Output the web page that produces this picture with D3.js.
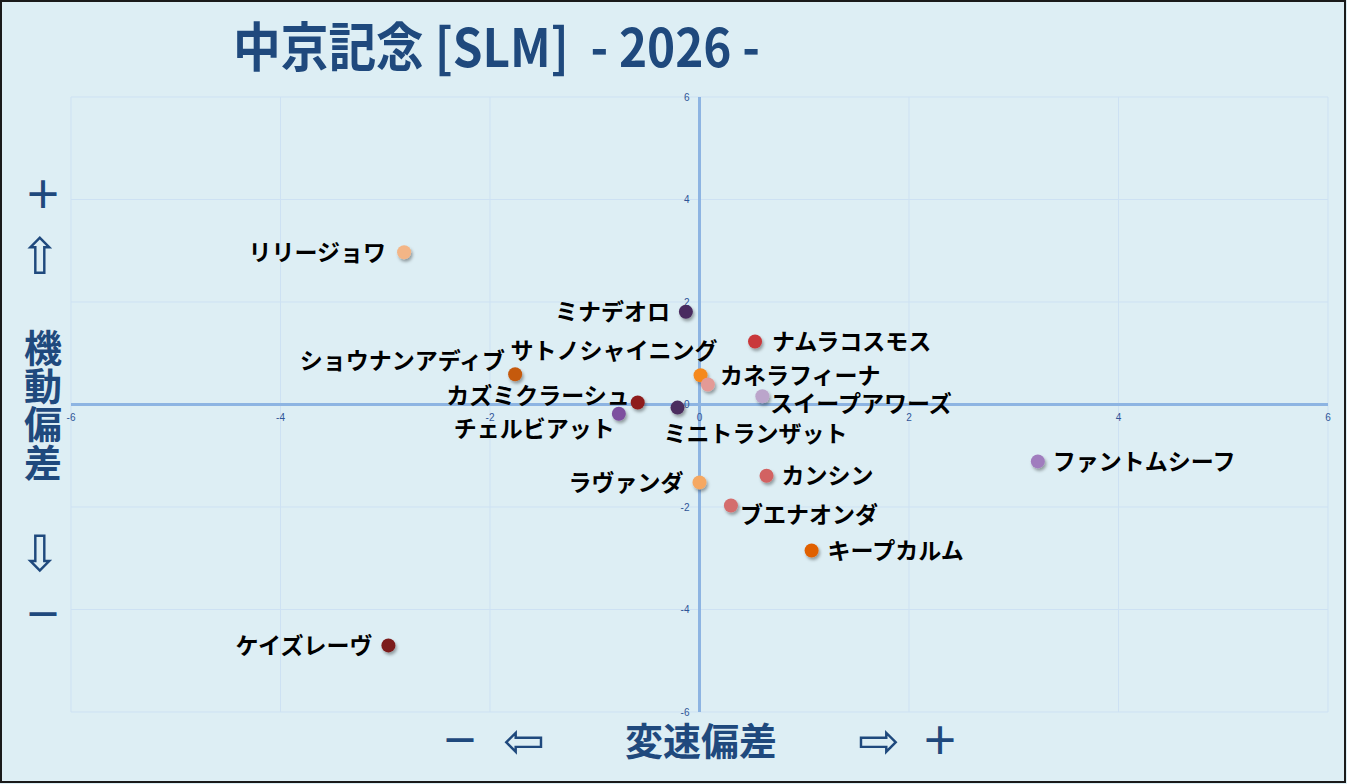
<!DOCTYPE html>
<html><head><meta charset="utf-8">
<script src="https://cdn.jsdelivr.net/npm/d3@7"></script>
<style>
html,body{margin:0;padding:0;background:#ddeef4;}
svg{display:block;}
</style></head>
<body>
<script>
// ---- data ----
const horses = ["リリージョワ","ミナデオロ","ナムラコスモス","ショウナンアディブ","サトノシャイニング","カネラフィーナ","カズミクラーシュ","ミニトランザット","チェルビアット","スイープアワーズ","ファントムシーフ","カンシン","ラヴァンダ","ブエナオンダ","キープカルム","ケイズレーヴ"];
const speedDev = [-2.82,-0.13,0.53,-1.76,0.01,0.08,-0.59,-0.21,-0.77,0.60,3.23,0.64,0.00,0.30,1.07,-2.97];
const mobilityDev = [2.97,1.81,1.23,0.59,0.57,0.39,0.04,-0.06,-0.18,0.16,-1.11,-1.39,-1.52,-1.97,-2.85,-4.70];
const pointColors = ["#f3b586","#4a2b5e","#c9383a","#c55a11","#f5891f","#e39a96","#8e1c1c","#4b2d5f","#7d4f9f","#bba5cb","#a07dbe","#d26262","#f5a862","#d46d6d","#e06003","#7c1a1a"];
const xTicks = [-6,-4,-2,0,2,4,6];
const yTicks = [-6,-4,-2,0,2,4,6];
const title = "中京記念 [SLM]  - 2026 -";
const xTitle = "変速偏差";
const yTitle = ["機","動","偏","差"];

// label placement (layout only)
const labelPlace = {
 "リリージョワ":[-18,0,"end"],
 "ミナデオロ":[-16,0,"end"],
 "ナムラコスモス":[17,0,"start"],
 "ショウナンアディブ":[-10,-14,"end"],
 "サトノシャイニング":[17,-25,"end"],
 "カネラフィーナ":[12,-9,"start"],
 "カズミクラーシュ":[-8,-7,"end"],
 "ミニトランザット":[-14,26,"start"],
 "チェルビアット":[-4,15,"end"],
 "スイープアワーズ":[8,7,"start"],
 "ファントムシーフ":[15,0,"start"],
 "カンシン":[15,0,"start"],
 "ラヴァンダ":[-16,0,"end"],
 "ブエナオンダ":[9,9,"start"],
 "キープカルム":[16,0,"start"],
 "ケイズレーヴ":[-16,0,"end"]
};

const W=1347,H=784;
const svg=d3.select("body").append("svg").attr("width",W).attr("height",H);
const defs=svg.append("defs");
const f=defs.append("filter").attr("id","sh").attr("x","-50%").attr("y","-50%").attr("width","200%").attr("height","200%");
f.append("feDropShadow").attr("dx",1.5).attr("dy",2.5).attr("stdDeviation",1.6).attr("flood-color","#000").attr("flood-opacity",0.35);

svg.append("rect").attr("x",1).attr("y",1).attr("width",W-3).attr("height",H-3)
  .attr("fill","#ddeef4").attr("stroke","#1a1a1a").attr("stroke-width",2);

const x=d3.scaleLinear().domain([-6,6]).range([71,1328]);
const y=d3.scaleLinear().domain([-6,6]).range([712,97]);

// gridlines
const g=svg.append("g");
g.selectAll("line.vx").data(xTicks).join("line")
 .attr("x1",d=>x(d)).attr("x2",d=>x(d)).attr("y1",y(6)).attr("y2",y(-6))
 .attr("stroke","#cde1f3").attr("stroke-width",1);
g.selectAll("line.hy").data(yTicks).join("line")
 .attr("y1",d=>y(d)).attr("y2",d=>y(d)).attr("x1",x(-6)).attr("x2",x(6))
 .attr("stroke","#cde1f3").attr("stroke-width",1);

// axes through origin
svg.append("line").attr("x1",x(-6)).attr("x2",x(6)).attr("y1",y(0)).attr("y2",y(0))
 .attr("stroke","#8db4e2").attr("stroke-width",3);
svg.append("line").attr("x1",x(0)).attr("x2",x(0)).attr("y1",y(6)).attr("y2",y(-6))
 .attr("stroke","#8db4e2").attr("stroke-width",3);

const tickFont="'Liberation Sans Narrow','Liberation Sans',Arial,sans-serif";
svg.append("g").selectAll("text").data(xTicks).join("text")
 .attr("x",d=>x(d)).attr("y",y(0)+16).attr("text-anchor","middle")
 .attr("font-family",tickFont).attr("font-size",10).attr("fill","#2f5597").text(d=>d);
svg.append("g").selectAll("text").data(yTicks).join("text")
 .attr("x",x(0)-10).attr("y",d=>y(d)).attr("dy","0.35em").attr("text-anchor","end")
 .attr("font-family",tickFont).attr("font-size",10).attr("fill","#2f5597").text(d=>d);

// points
const data=horses.map((h,i)=>({name:h,sx:speedDev[i],my:mobilityDev[i],c:pointColors[i]}));
svg.append("g").selectAll("circle").data(data).join("circle")
 .attr("cx",d=>x(d.sx)).attr("cy",d=>y(d.my)).attr("r",7)
 .attr("fill",d=>d.c).attr("filter","url(#sh)");

// labels
const jpFont="'Noto Sans CJK JP','Noto Sans',sans-serif";
svg.append("g").selectAll("text").data(data).join("text")
 .attr("x",d=>x(d.sx)+labelPlace[d.name][0])
 .attr("y",d=>y(d.my)+labelPlace[d.name][1])
 .attr("dy","0.36em")
 .attr("text-anchor",d=>labelPlace[d.name][2])
 .attr("font-family",jpFont).attr("font-size",23).attr("font-weight",600)
 .attr("fill","#000").text(d=>d.name);

// title
const blue="#1f497d";
svg.append("text").attr("x",233).attr("y",67).attr("font-family",jpFont)
 .attr("font-size",53).attr("font-weight",700).attr("fill",blue)
 .attr("textLength",527).attr("lengthAdjust","spacingAndGlyphs")
 .style("white-space","pre").text(title);

// y axis title
const arrowFont="'DejaVu Sans',sans-serif";
const yt=svg.append("g").attr("font-family",jpFont).attr("font-weight",700).attr("fill",blue).attr("text-anchor","middle");
yt.append("text").attr("x",43).attr("y",195).attr("dy","0.35em").attr("font-size",38).text("＋");
yt.append("text").attr("x",40).attr("y",256).attr("dy","0.35em").attr("font-size",50).attr("font-family",arrowFont).attr("font-weight",400).text("⇧");
yt.selectAll("text.c").data(yTitle).join("text").attr("class","c")
 .attr("x",43).attr("y",(d,i)=>348+i*38.3).attr("dy","0.36em").attr("font-size",38).text(d=>d);
yt.append("text").attr("x",40).attr("y",553).attr("dy","0.35em").attr("font-size",50).attr("font-family",arrowFont).attr("font-weight",400).text("⇩");
yt.append("text").attr("x",43).attr("y",615).attr("dy","0.35em").attr("font-size",38).text("－");

// x axis title
const xt=svg.append("g").attr("font-family",jpFont).attr("font-weight",700).attr("fill",blue).attr("text-anchor","middle");
xt.append("text").attr("x",460).attr("y",741).attr("dy","0.35em").attr("font-size",38).text("－");
xt.append("text").attr("x",524).attr("y",740).attr("dy","0.35em").attr("font-size",50).attr("font-family",arrowFont).attr("font-weight",400).text("⇦");
xt.append("text").attr("x",701).attr("y",741).attr("dy","0.36em").attr("font-size",38).text(xTitle);
xt.append("text").attr("x",879).attr("y",740).attr("dy","0.35em").attr("font-size",50).attr("font-family",arrowFont).attr("font-weight",400).text("⇨");
xt.append("text").attr("x",940).attr("y",741).attr("dy","0.35em").attr("font-size",38).text("＋");
</script>
</body></html>
